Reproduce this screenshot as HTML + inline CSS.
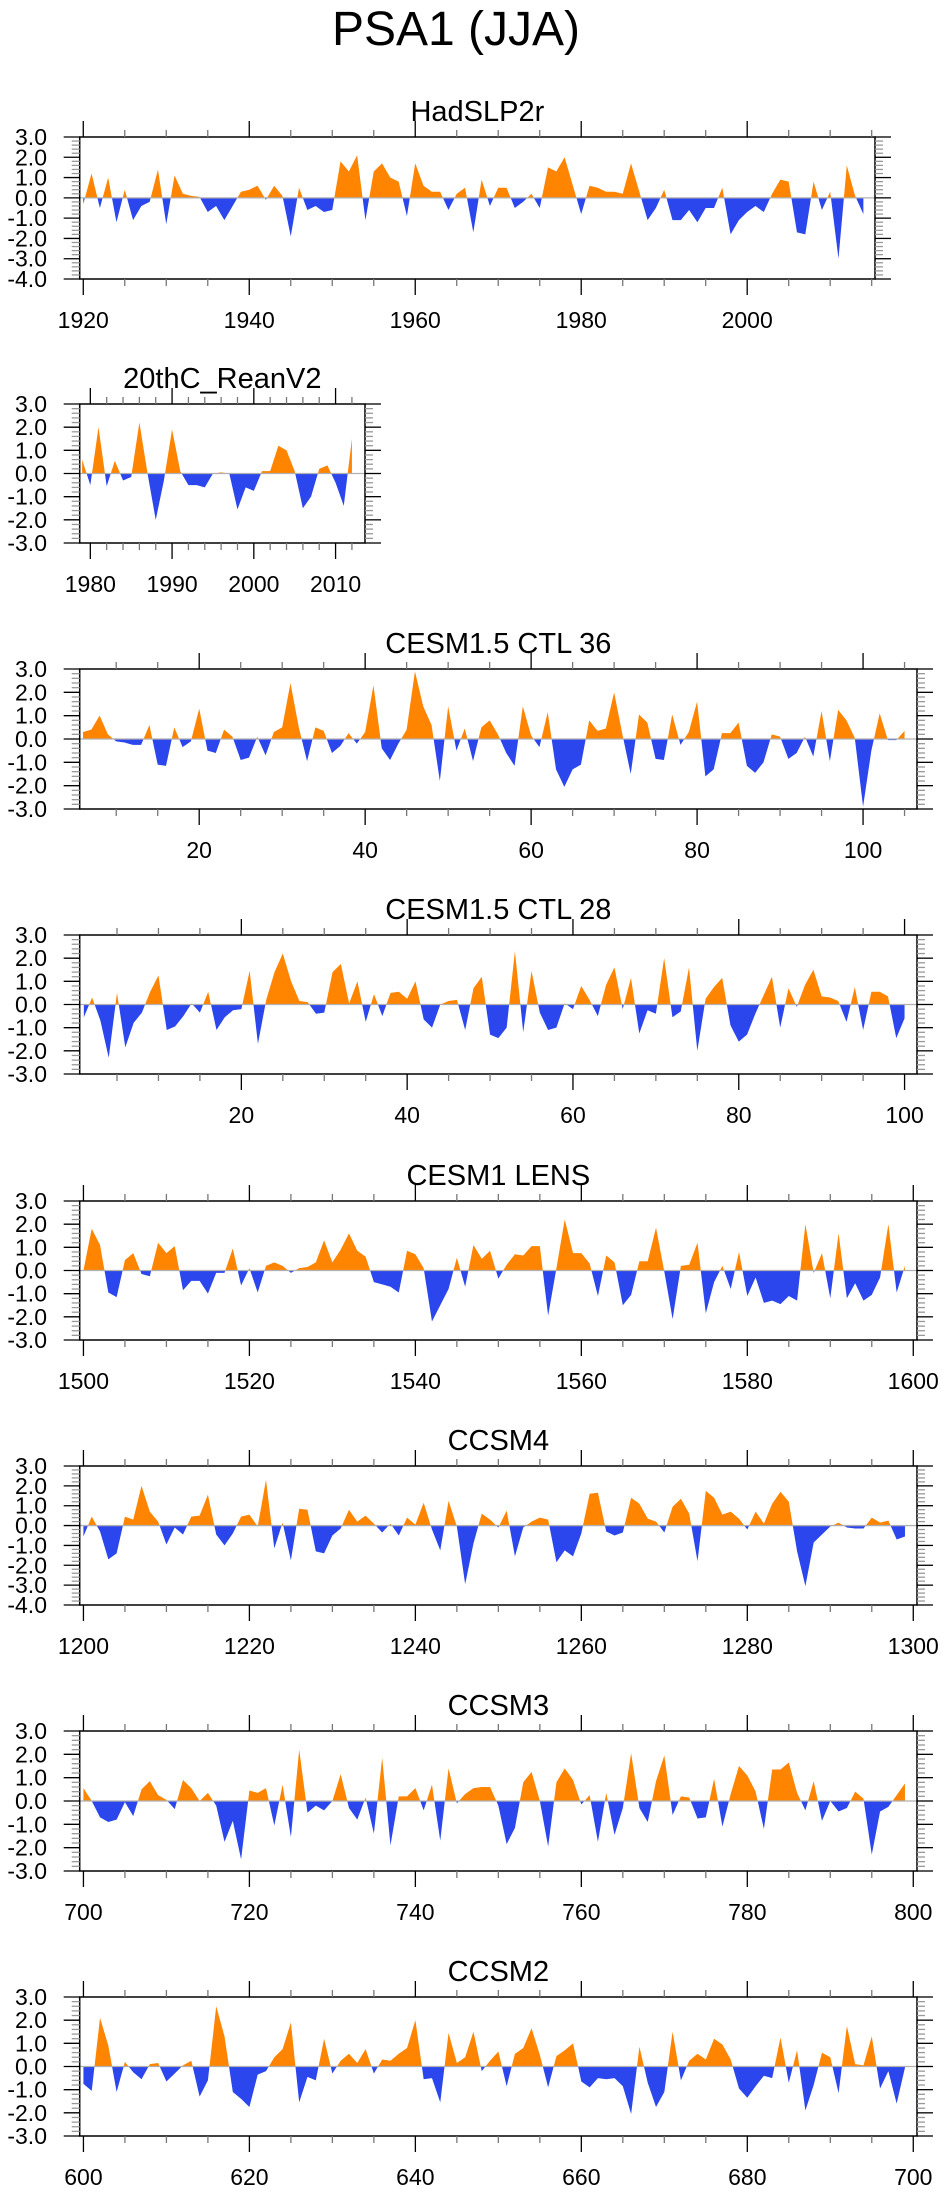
<!DOCTYPE html>
<html><head><meta charset="utf-8">
<style>
html,body{margin:0;padding:0;background:#fff;}
svg{display:block;}
text{font-family:"Liberation Sans",Arial,sans-serif;fill:#000;}
</style></head>
<body>
<svg id="fig" width="946" height="2195" viewBox="0 0 946 2195" xmlns="http://www.w3.org/2000/svg">
<text x="456" y="45" font-size="48" text-anchor="middle">PSA1 (JJA)</text>
</svg>
<script>
// ---- data ----
const titles = ["HadSLP2r","20thC_ReanV2","CESM1.5 CTL 36","CESM1.5 CTL 28","CESM1 LENS","CCSM4","CCSM3","CCSM2"];
const startYears = [1920,1979,6,1,1500,1200,700,600];
const hadslp2r = [-0.3,1.2,-0.5,1.0,-1.2,0.4,-1.1,-0.4,-0.2,1.4,-1.3,1.1,0.2,0.1,0.05,-0.7,-0.4,-1.1,-0.4,0.3,0.4,0.6,-0.1,0.6,0.1,-1.9,0.5,-0.6,-0.4,-0.7,-0.6,1.8,1.3,2.1,-1.1,1.3,1.7,1.0,0.8,-0.9,1.7,0.6,0.3,0.3,-0.6,0.2,0.5,-1.7,0.9,-0.4,0.5,0.5,-0.5,-0.2,0.2,-0.5,1.5,1.3,2.0,0.6,-0.8,0.6,0.5,0.3,0.3,0.2,1.7,0.3,-1.1,-0.5,0.4,-1.1,-1.1,-0.6,-1.2,-0.5,-0.5,0.5,-1.8,-1.1,-0.7,-0.4,-0.7,0.2,0.9,0.8,-1.7,-1.8,0.8,-0.6,0.3,-3.0,1.6,0.1,-0.8];
const rean20c = [0.6,-0.5,2.0,-0.55,0.55,-0.3,-0.15,2.2,0.0,-2.0,-0.3,1.9,0.1,-0.5,-0.5,-0.6,0.0,0.05,0.0,-1.55,-0.6,-0.75,0.1,0.1,1.2,1.0,0.1,-1.5,-1.0,0.2,0.35,-0.4,-1.4,1.5];
const ctl36 = [0.3,0.4,1.0,0.2,-0.1,-0.15,-0.25,-0.25,0.6,-1.1,-1.15,0.5,-0.35,-0.1,1.3,-0.5,-0.6,0.4,0.1,-0.9,-0.8,0.1,-0.7,0.3,0.5,2.4,0.5,-0.95,0.5,0.35,-0.6,-0.3,0.25,-0.2,0.3,2.3,-0.4,-0.9,-0.2,0.4,2.9,1.4,0.6,-1.8,1.4,-0.5,0.45,-0.95,0.5,0.8,0.2,-0.6,-1.15,1.4,0.15,-0.35,1.15,-1.3,-2.05,-1.3,-1.1,0.8,0.35,0.45,2.0,0.2,-1.5,1.05,0.7,-0.85,-0.9,1.05,-0.25,0.3,1.6,-1.6,-1.3,0.25,0.25,0.7,-1.15,-1.45,-1.0,0.2,0.1,-0.85,-0.6,0.1,-0.75,1.2,-0.95,1.25,0.8,0.05,-2.9,-0.5,1.1,-0.05,-0.05,0.35];
const ctl28 = [-0.55,0.3,-0.7,-2.3,0.5,-1.85,-0.8,-0.35,0.55,1.25,-1.1,-0.95,-0.5,0.05,-0.35,0.55,-1.1,-0.55,-0.25,-0.2,1.45,-1.7,0.2,1.4,2.2,1.0,0.15,0.1,-0.4,-0.35,1.4,1.75,0.05,1.0,-0.75,0.45,-0.5,0.5,0.55,0.25,1.0,-0.65,-1.0,0.0,0.15,0.2,-1.1,0.7,1.2,-1.3,-1.45,-1.0,2.3,-1.2,1.45,-0.35,-1.1,-1.0,0.05,-0.2,0.8,0.2,-0.5,0.85,1.6,-0.2,1.15,-1.25,-0.25,-0.4,2.0,-0.55,-0.3,1.6,-2.0,0.25,0.75,1.15,-0.9,-1.6,-1.3,-0.4,0.4,1.2,-1.0,0.7,-0.1,0.85,1.5,0.35,0.3,0.15,-0.75,0.75,-1.1,0.55,0.55,0.35,-1.45,-0.6];
const lens = [0.0,1.8,1.1,-0.95,-1.15,0.45,0.75,-0.15,-0.25,1.2,0.75,1.05,-0.85,-0.45,-0.45,-1.0,-0.1,-0.1,0.95,-0.65,0.1,-0.95,0.2,0.35,0.2,-0.1,0.1,0.15,0.35,1.3,0.35,0.9,1.6,0.85,0.6,-0.5,-0.6,-0.7,-0.95,0.85,0.7,0.1,-2.2,-1.5,-0.8,0.55,-0.7,1.1,0.5,0.85,-0.35,0.25,0.7,0.65,1.05,1.05,-1.95,0.1,2.2,0.75,0.75,0.3,-1.1,0.65,0.35,-1.5,-1.05,0.4,0.4,1.85,-0.05,-2.1,0.2,0.25,1.2,-1.85,-0.5,0.2,-0.8,0.8,-1.1,-0.3,-1.4,-1.3,-1.45,-1.1,-1.3,2.0,-0.1,0.75,-1.2,1.6,-1.2,-0.55,-1.3,-1.05,-0.3,2.0,-0.95,0.2];
const ccsm4 = [-0.55,0.45,-0.3,-1.7,-1.4,0.45,0.3,2.0,0.7,0.2,-0.95,-0.1,-0.45,0.45,0.5,1.55,-0.45,-1.0,-0.4,0.45,0.55,-0.05,2.3,-1.15,0.15,-1.75,0.85,0.8,-1.3,-1.4,-0.5,-0.15,0.8,0.2,0.5,0.1,-0.35,0.1,-0.5,0.4,0.05,1.15,-0.2,-1.25,1.25,-0.05,-2.95,-0.9,0.6,0.3,-0.1,0.75,-1.55,-0.1,0.2,0.4,0.3,-1.85,-1.25,-1.55,-0.4,1.6,1.65,-0.3,-0.5,-0.35,1.4,1.1,0.35,0.2,-0.35,0.95,1.35,0.6,-1.8,1.75,1.4,0.55,0.7,0.35,-0.2,0.7,0.1,1.1,1.7,1.2,-1.3,-3.05,-0.85,-0.45,-0.05,0.15,-0.1,-0.15,-0.15,0.4,0.15,0.25,-0.7,-0.55];
const ccsm3 = [0.55,0.0,-0.7,-0.9,-0.8,-0.05,-0.65,0.5,0.85,0.25,0.05,-0.35,0.9,0.55,0.0,0.35,-0.2,-1.75,-0.85,-2.5,0.45,0.35,0.55,-1.05,0.7,-1.55,2.2,-0.5,-0.2,-0.4,0.0,1.15,-0.3,-0.8,0.15,-1.4,1.85,-1.9,0.2,0.2,0.55,-0.4,0.7,-1.7,1.4,-0.1,0.3,0.55,0.6,0.6,-0.2,-1.85,-1.15,0.8,1.25,0.0,-1.95,0.8,1.4,0.9,-0.15,0.25,-1.75,0.35,-1.45,-0.3,2.05,-0.3,-0.9,0.85,1.95,-0.6,0.2,0.15,-0.75,-0.7,0.95,-1.1,0.3,1.5,1.1,0.4,-1.2,1.35,1.35,1.65,0.35,-0.4,0.85,-0.85,0.0,-0.45,-0.3,0.4,0.1,-2.3,-0.45,-0.25,0.25,0.75];
const ccsm2 = [-0.75,-1.05,2.1,0.9,-1.1,0.2,-0.25,-0.55,0.1,0.15,-0.65,-0.3,0.05,0.25,-1.3,-0.6,2.6,1.3,-1.1,-1.4,-1.75,-0.35,-0.2,0.4,0.75,1.9,-1.55,-0.45,-0.6,1.2,-0.3,0.25,0.55,0.15,0.75,-0.3,0.3,0.25,0.55,0.8,2.0,-0.55,-0.5,-1.55,1.45,0.15,0.4,1.5,-0.2,0.25,0.65,-0.85,0.55,0.8,1.65,0.5,-0.9,0.45,0.7,1.0,-0.65,-0.9,-0.5,-0.55,-0.5,-0.85,-2.05,0.85,-0.7,-1.75,-1.1,1.5,-0.6,0.25,0.55,0.3,1.2,0.95,0.3,-0.95,-1.35,-0.85,-0.4,-0.5,1.25,-0.7,0.7,-1.9,-0.8,0.6,0.4,-1.15,1.75,0.1,0.05,1.3,-0.95,-0.2,-1.6,-0.05];
const seriesList = [hadslp2r,rean20c,ctl36,ctl28,lens,ccsm4,ccsm3,ccsm2];
const xMajorTicks = [[1920,1940,1960,1980,2000],[1980,1990,2000,2010],[20,40,60,80,100],[20,40,60,80,100],[1500,1520,1540,1560,1580,1600],[1200,1220,1240,1260,1280,1300],[700,720,740,760,780,800],[600,620,640,660,680,700]];
const yMajorTicks = [[-4,-3,-2,-1,0,1,2,3],[-3,-2,-1,0,1,2,3],[-3,-2,-1,0,1,2,3],[-3,-2,-1,0,1,2,3],[-3,-2,-1,0,1,2,3],[-4,-3,-2,-1,0,1,2,3],[-3,-2,-1,0,1,2,3],[-3,-2,-1,0,1,2,3]];

// ---- layout (not data) ----
const layout = [
 {l:79.7,r:875,t:137,b:279,x0:1919.57,x1:2015.4,ymin:-4,ymax:3,minor:5},
 {l:79.7,r:365,t:404,b:543,x0:1978.7,x1:2013.6,ymin:-3,ymax:3,minor:2},
 {l:79.7,r:917,t:669,b:809,x0:5.6,x1:106.5,ymin:-3,ymax:3,minor:5},
 {l:79.7,r:917,t:935,b:1074,x0:0.5,x1:101.5,ymin:-3,ymax:3,minor:5},
 {l:79.7,r:917,t:1201,b:1340,x0:1499.55,x1:1600.45,ymin:-3,ymax:3,minor:5},
 {l:79.7,r:917,t:1466,b:1605,x0:1199.55,x1:1300.45,ymin:-4,ymax:3,minor:5},
 {l:79.7,r:917,t:1731,b:1871,x0:699.55,x1:800.45,ymin:-3,ymax:3,minor:5},
 {l:79.7,r:917,t:1997,b:2136,x0:599.55,x1:700.45,ymin:-3,ymax:3,minor:5}
];
const NS="http://www.w3.org/2000/svg";
const svg=document.getElementById('fig');
function mk(tag,attrs,parent){const e=document.createElementNS(NS,tag);for(const k in attrs)e.setAttribute(k,attrs[k]);(parent||svg).appendChild(e);return e;}
function fmt(v){return v.toFixed(1);}

layout.forEach((L,i)=>{
  const g=mk('g',{});
  
  
  const xs=v=>L.l+(v-L.x0)/(L.x1-L.x0)*(L.r-L.l);
  const ys=v=>L.t+(L.ymax-v)/(L.ymax-L.ymin)*(L.b-L.t);
  const data=seriesList[i], s0=startYears[i];
  const y0=ys(0);
  // polygon
  let d='M'+xs(s0)+','+y0;
  data.forEach((v,k)=>{d+=' L'+xs(s0+k).toFixed(2)+','+ys(v).toFixed(2);});
  d+=' L'+xs(s0+data.length-1)+','+y0+' Z';
  const cpA=mk('clipPath',{id:'ca'+i},g); mk('rect',{x:L.l,y:L.t,width:L.r-L.l,height:y0-L.t},cpA);
  const cpB=mk('clipPath',{id:'cb'+i},g); mk('rect',{x:L.l,y:y0,width:L.r-L.l,height:L.b-y0},cpB);
  const pos=mk('path',{d:d,fill:'#ff8400','clip-path':'url(#ca'+i+')'},g);
  
  
  const neg=mk('path',{d:d,fill:'#2a46ec','clip-path':'url(#cb'+i+')'},g);
  
  
  const zl=mk('line',{x1:L.l,x2:L.r,y1:y0,y2:y0,stroke:'#b0b0b0','stroke-width':1.3},g);
  
  
  // frame
  const fr=mk('rect',{x:L.l,y:L.t,width:L.r-L.l,height:L.b-L.t,fill:'none',stroke:'#000','stroke-width':1.5},g);
  
  
  // x ticks
  const xt=xMajorTicks[i];
  const firstMinor=Math.ceil(L.x0/L.minor)*L.minor;
  for(let v=firstMinor; v<=L.x1; v+=L.minor){
    const isMaj=xt.includes(v)||((v-xt[0])%(xt[1]-xt[0])===0);
    const len=isMaj?16:7, x=xs(v);
    mk('line',{x1:x,x2:x,y1:L.b,y2:L.b+len,stroke:isMaj?'#000':'#777','stroke-width':1.3},g);
    mk('line',{x1:x,x2:x,y1:L.t,y2:L.t-len,stroke:isMaj?'#000':'#777','stroke-width':1.3},g);
  }
  xt.forEach(v=>{
    const t=mk('text',{x:xs(v),y:L.b+49,'font-size':23,'text-anchor':'middle'},g);
    t.textContent=String(v);
    
    
  });
  // y ticks
  for(let k=Math.round(L.ymin*5);k<=Math.round(L.ymax*5);k++){
    const v=k/5, y=ys(v), maj=(k%5===0), len=maj?16:8;
    mk('line',{x1:L.l,x2:L.l-len,y1:y,y2:y,stroke:maj?'#000':'#999','stroke-width':1.3},g);
    mk('line',{x1:L.r,x2:L.r+len,y1:y,y2:y,stroke:maj?'#000':'#999','stroke-width':1.3},g);
  }
  yMajorTicks[i].forEach(v=>{
    const t=mk('text',{x:47,y:ys(v)+8,'font-size':23,'text-anchor':'end'},g);
    t.textContent=fmt(v);
    
    
  });
  const tt=mk('text',{x:(L.l+L.r)/2,y:L.t-16,'font-size':29,'text-anchor':'middle'},g);
  tt.textContent=titles[i];
  
  
});
</script>
</body></html>
